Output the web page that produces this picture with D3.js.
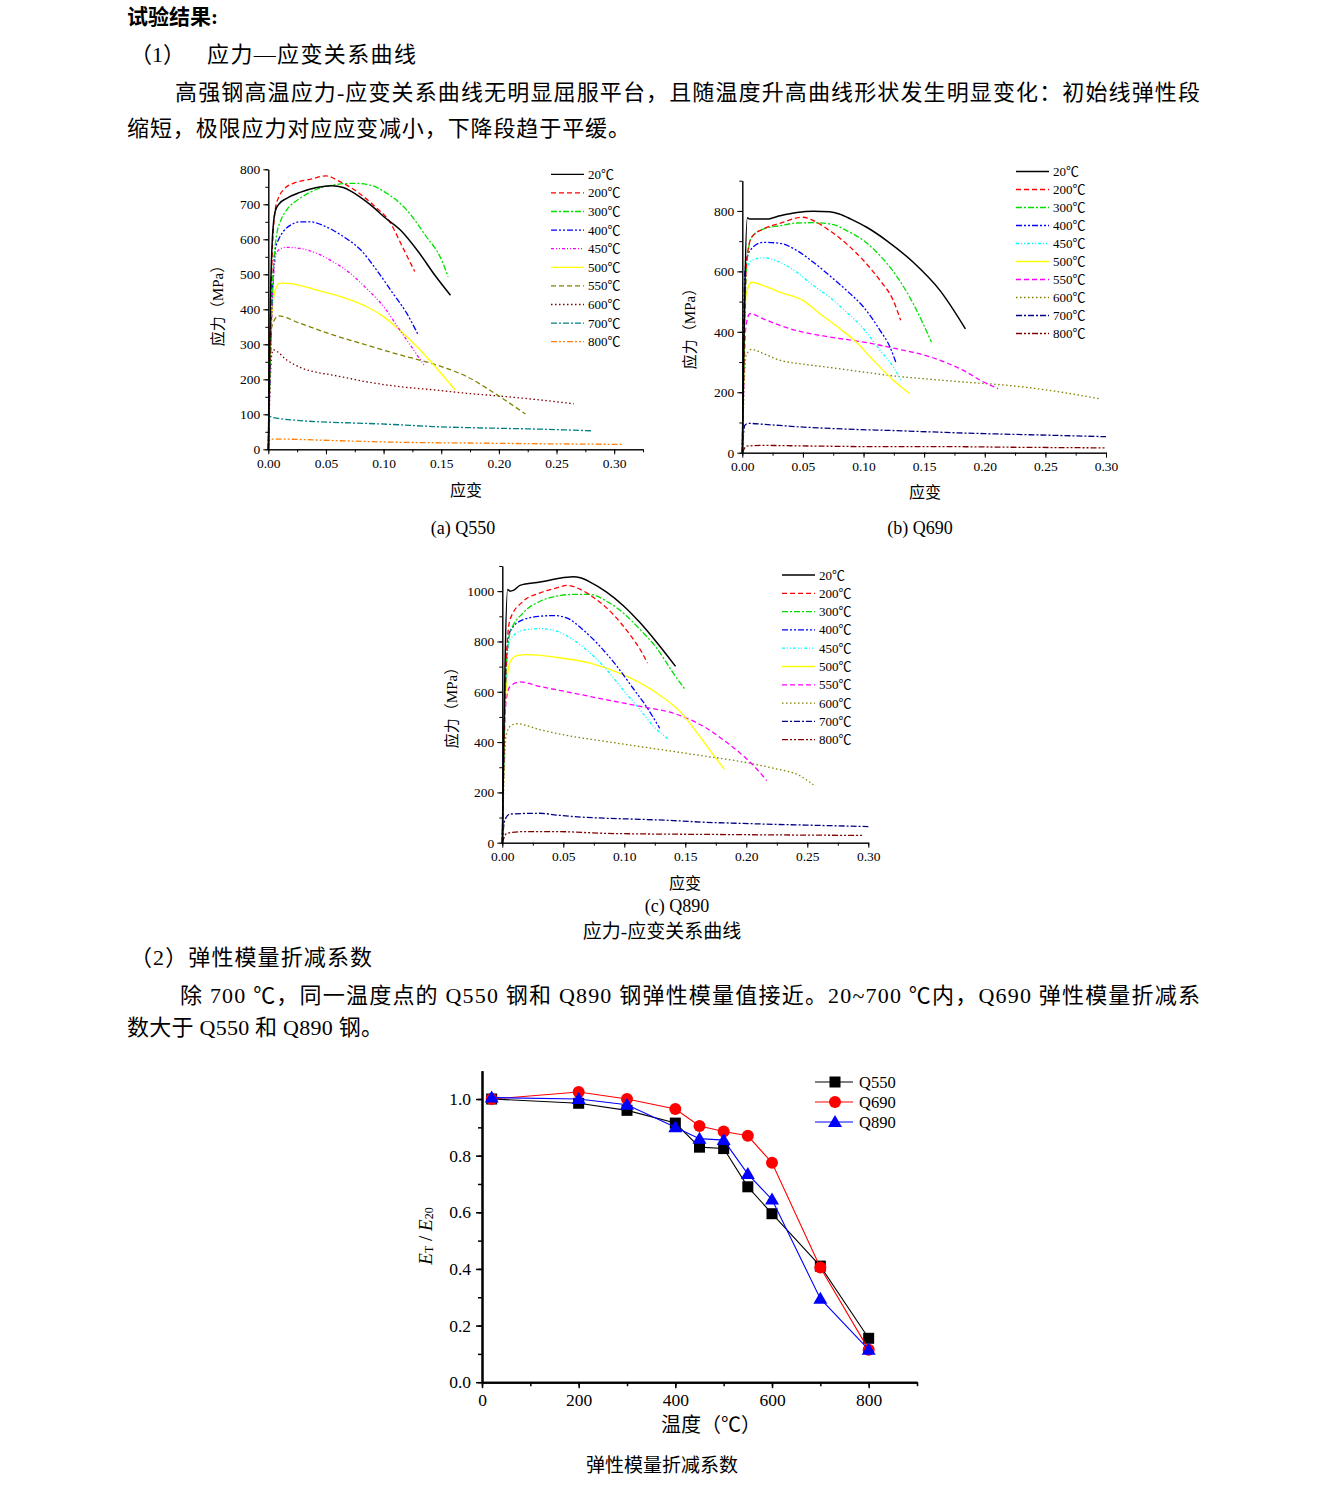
<!DOCTYPE html>
<html><head><meta charset="utf-8">
<script src="https://cdn.jsdelivr.net/npm/d3@7"></script>
<style>
body{margin:0;background:#fff;}
svg{display:block;}
</style></head>
<body>
<svg id="page" width="1323" height="1505"></svg>
<script>
// ---------------- DATA ----------------
const tempLabels = ["20℃","200℃","300℃","400℃","450℃","500℃","550℃","600℃","700℃","800℃"];
const xTickLabels = ["0.00","0.05","0.10","0.15","0.20","0.25","0.30"];

// Q550 stress-strain curves [strain, stress MPa], one list per temperature
const q550Curves = [
 [[0,0],[0.002,450],[0.0035,600],[0.006,680],[0.009,700],[0.016,717],[0.0275,734],[0.042,748],[0.055,753],[0.065,748],[0.072,737],[0.08,720],[0.09,695],[0.1,665],[0.115,625],[0.13,565],[0.145,495],[0.158,440]],
 [[0,0],[0.003,520],[0.006,684],[0.009,720],[0.013,741],[0.0217,760],[0.036,771],[0.05,781],[0.062,765],[0.077,736],[0.091,698],[0.106,646],[0.117,574],[0.127,508]],
 [[0,0],[0.003,420],[0.007,608],[0.011,655],[0.016,684],[0.0275,717],[0.042,743],[0.056,755],[0.074,760],[0.088,755],[0.103,731],[0.12,684],[0.137,608],[0.149,550],[0.156,493]],
 [[0,0],[0.003,400],[0.006,570],[0.009,600],[0.013,622],[0.02,642],[0.0275,650],[0.036,650],[0.05,636],[0.065,608],[0.08,570],[0.094,512],[0.108,446],[0.12,389],[0.13,327]],
 [[0,0],[0.003,380],[0.007,560],[0.011,574],[0.016,577],[0.0275,574],[0.042,560],[0.056,536],[0.071,503],[0.085,460],[0.1,408],[0.114,341],[0.126,284],[0.135,241]],
 [[0,0],[0.003,380],[0.006,455],[0.01,474],[0.016,474],[0.042,455],[0.071,427],[0.085,408],[0.1,379],[0.114,340],[0.129,293],[0.143,243],[0.162,170]],
 [[0,0],[0.003,350],[0.0087,381],[0.0275,360],[0.056,327],[0.085,298],[0.114,270],[0.143,244],[0.172,208],[0.201,150],[0.223,101]],
 [[0,0],[0.003,270],[0.0043,284],[0.016,255],[0.0275,234],[0.042,220],[0.056,212],[0.071,202],[0.085,193],[0.114,179],[0.143,170],[0.172,160],[0.201,152],[0.23,143],[0.265,130]],
 [[0,0],[0.0015,93],[0.004,91],[0.0275,82],[0.056,77],[0.085,74],[0.114,70],[0.143,65],[0.172,62],[0.2,60],[0.23,58],[0.28,53]],
 [[0,0],[0.0015,29],[0.01,29],[0.056,25],[0.114,20],[0.172,18],[0.23,16],[0.308,14]]
];

// Q690 stress-strain curves
const q690Curves = [
 [[0,0],[0.0042,777],[0.006,773],[0.02,773],[0.031,784],[0.045,795],[0.0586,799],[0.072,797],[0.08,790],[0.09,772],[0.1026,746],[0.119,702],[0.141,630],[0.163,537],[0.184,410]],
 [[0,0],[0.0036,636],[0.0077,713],[0.0173,740],[0.031,759],[0.05,779],[0.0586,768],[0.072,735],[0.086,691],[0.1,636],[0.1136,570],[0.1245,504],[0.1306,438]],
 [[0,0],[0.0036,620],[0.0077,713],[0.0173,740],[0.031,751],[0.045,760],[0.0586,761],[0.075,755],[0.086,735],[0.1,702],[0.1136,652],[0.127,586],[0.141,493],[0.156,366]],
 [[0,0],[0.0022,603],[0.0063,669],[0.0173,696],[0.031,693],[0.045,669],[0.0586,630],[0.072,586],[0.086,537],[0.1,482],[0.1136,405],[0.1218,350],[0.127,295]],
 [[0,0],[0.003,600],[0.0077,636],[0.0173,645],[0.031,630],[0.045,597],[0.0586,553],[0.072,515],[0.086,465],[0.1,410],[0.1136,339],[0.1245,284],[0.131,240]],
 [[0,0],[0.003,520],[0.0077,564],[0.0173,553],[0.031,531],[0.05,504],[0.064,460],[0.0806,410],[0.094,366],[0.108,306],[0.1245,240],[0.138,196]],
 [[0,0],[0.003,420],[0.0063,460],[0.0173,443],[0.031,421],[0.05,399],[0.072,383],[0.1,366],[0.127,344],[0.155,317],[0.182,273],[0.199,234],[0.211,212]],
 [[0,0],[0.003,320],[0.0077,342],[0.0173,328],[0.031,306],[0.05,293],[0.072,282],[0.1,267],[0.127,253],[0.155,243],[0.182,234],[0.21,226],[0.237,215],[0.265,199],[0.294,179]],
 [[0,0],[0.002,90],[0.005,97],[0.0173,94],[0.045,86],[0.086,78],[0.127,73],[0.168,67],[0.21,62],[0.251,58],[0.3,53]],
 [[0,0],[0.0036,22],[0.0173,24],[0.0586,22],[0.1136,20],[0.168,20],[0.224,18],[0.299,16]]
];

// Q890 stress-strain curves
const q890Curves = [
 [[0,0],[0.0044,1007],[0.0063,1000],[0.009,1003],[0.0145,1023],[0.031,1036],[0.0445,1049],[0.058,1057],[0.064,1053],[0.072,1036],[0.0855,996],[0.099,943],[0.113,874],[0.1265,797],[0.142,701]],
 [[0,0],[0.003,700],[0.0063,887],[0.0172,960],[0.031,993],[0.0445,1013],[0.053,1023],[0.064,1007],[0.077,967],[0.091,907],[0.1046,827],[0.113,768],[0.119,714]],
 [[0,0],[0.003,680],[0.0063,834],[0.0172,914],[0.031,960],[0.0445,980],[0.058,987],[0.072,987],[0.0855,960],[0.099,914],[0.113,847],[0.1265,774],[0.14,675],[0.15,608]],
 [[0,0],[0.003,680],[0.0063,840],[0.0172,887],[0.031,900],[0.042,903],[0.0527,894],[0.066,847],[0.08,781],[0.094,701],[0.107,615],[0.118,542],[0.129,455]],
 [[0,0],[0.003,660],[0.0063,807],[0.0172,845],[0.031,851],[0.0445,841],[0.058,807],[0.072,754],[0.0855,688],[0.099,608],[0.113,528],[0.124,462],[0.137,409]],
 [[0,0],[0.003,600],[0.0065,720],[0.0117,744],[0.02,748],[0.0445,737],[0.072,714],[0.099,668],[0.1265,595],[0.1456,522],[0.162,422],[0.173,349],[0.182,292]],
 [[0,0],[0.003,560],[0.0063,621],[0.0145,639],[0.031,621],[0.058,595],[0.0855,568],[0.113,542],[0.14,515],[0.154,489],[0.1675,455],[0.181,409],[0.195,356],[0.208,296],[0.2167,247]],
 [[0,0],[0.003,420],[0.0063,462],[0.0117,473],[0.031,449],[0.058,422],[0.0855,402],[0.113,382],[0.14,363],[0.1675,343],[0.195,323],[0.222,296],[0.244,266],[0.255,230]],
 [[0,0],[0.002,90],[0.0063,114],[0.031,117],[0.0445,110],[0.058,104],[0.0855,97],[0.113,93],[0.14,88],[0.1675,81],[0.195,77],[0.222,73],[0.249,70],[0.3,64]],
 [[0,0],[0.0036,37],[0.0172,44],[0.0445,44],[0.0855,37],[0.113,35],[0.1675,33],[0.222,31],[0.296,29]]
];

// Elastic modulus reduction factor E_T/E_20
const modTemps = [20,200,300,400,450,500,550,600,700,800];
const modQ550 = [1.0,0.985,0.96,0.915,0.83,0.825,0.69,0.595,0.41,0.155];
const modQ690 = [1.0,1.025,1.0,0.965,0.905,0.885,0.87,0.775,0.405,0.115];
const modQ890 = [1.005,1.0,0.98,0.9,0.86,0.855,0.735,0.645,0.295,0.115];
const modSeries = ["Q550","Q690","Q890"];

// ---------------- STYLES ----------------
const SERIF = "'Liberation Serif','Times New Roman','Noto Sans CJK SC',serif";
const CJK = "'Liberation Serif','Noto Sans CJK SC',sans-serif";
const dashSolid = null, dashDash = "5,3", dashDashDot = "6,2,2,2", dashDDD = "6,2,2,2,2,2",
      dashShortDDD = "3,2,1,2,1,2", dashDot = "1.5,2.5";
const styleA = [
 ["#000000",dashSolid],["#ff0000",dashDash],["#00e000",dashDashDot],["#0000ff",dashDDD],["#ff00ff",dashShortDDD],
 ["#ffff00",dashSolid],["#808000",dashDash],["#800000",dashDot],["#008080",dashDashDot],["#ff8000",dashDDD]];
const styleBC = [
 ["#000000",dashSolid],["#ff0000",dashDash],["#00e000",dashDashDot],["#0000ff",dashDDD],["#00ffff",dashShortDDD],
 ["#ffff00",dashSolid],["#ff00ff",dashDash],["#808000",dashDot],["#000080",dashDashDot],["#800000",dashDDD]];

const svg = d3.select("#page");

// ---------------- TEXT ----------------
function txt(x,y,s,opts={}){
  const t = svg.append("text").attr("x",x).attr("y",y).text(s)
    .attr("font-family",opts.family||CJK).attr("font-size",opts.size||22)
    .attr("dominant-baseline","central").attr("fill","#000");
  if(opts.anchor) t.attr("text-anchor",opts.anchor);
  if(opts.weight) t.attr("font-weight",opts.weight);
  if(opts.len){ t.attr("textLength",opts.len).attr("lengthAdjust","spacing"); }
  return t;
}
txt(127,17,"试验结果:",{weight:"bold",size:21});
txt(130,54,"（1）",{size:22});
txt(207,54,"应力—应变关系曲线",{size:22,len:209});
txt(175,92,"高强钢高温应力-应变关系曲线无明显屈服平台，且随温度升高曲线形状发生明显变化：初始线弹性段",{size:22,len:1025});
txt(127,128,"缩短，极限应力对应应变减小，下降段趋于平缓。",{size:22,len:503});
txt(463,528,"(a) Q550",{size:18,anchor:"middle",family:SERIF});
txt(920,528,"(b) Q690",{size:18,anchor:"middle",family:SERIF});
txt(677,906,"(c) Q890",{size:18,anchor:"middle",family:SERIF});
txt(662,931,"应力-应变关系曲线",{size:19,anchor:"middle"});
txt(130,957,"（2）弹性模量折减系数",{size:22,len:242});
txt(180,995,"除 700 ℃，同一温度点的 Q550 钢和 Q890 钢弹性模量值接近。20~700 ℃内，Q690 弹性模量折减系",{size:22,len:1020});
txt(127,1027,"数大于 Q550 和 Q890 钢。",{size:22,len:256});
txt(662,1465,"弹性模量折减系数",{size:19,anchor:"middle"});

// ---------------- STRESS-STRAIN CHARTS ----------------
function stressChart(cfg){
  const g = svg.append("g");
  const x = d3.scaleLinear().domain([0,cfg.xMax]).range([cfg.x0,cfg.x1]);
  const y = d3.scaleLinear().domain([0,cfg.yMax]).range([cfg.y0,cfg.y1]);
  const line = d3.line().x(d=>x(d[0])).y(d=>y(d[1])).curve(d3.curveMonotoneX);
  for(let i=cfg.curves.length-1;i>=0;i--){
    const [col,dash] = cfg.styles[i];
    const p = g.append("path").attr("d",line(cfg.curves[i])).attr("fill","none")
      .attr("stroke",col).attr("stroke-width",i===0?1.5:1.3);
    if(dash) p.attr("stroke-dasharray",dash);
  }
  const majX = d3.range(0,0.3001,0.05), minX = d3.range(0,cfg.xMax+1e-9,0.025);
  const ax = g.append("g").attr("transform",`translate(0,${cfg.y0})`)
    .call(d3.axisBottom(x).tickValues(minX).tickSize(3).tickSizeOuter(0).tickFormat(""));
  const ax2 = g.append("g").attr("transform",`translate(0,${cfg.y0})`)
    .call(d3.axisBottom(x).tickValues(majX).tickSize(5).tickSizeOuter(0).tickPadding(4)
      .tickFormat((d,i)=>xTickLabels[i]));
  const majY = d3.range(0,cfg.yMax+1e-9,cfg.yStep), minY = d3.range(0,cfg.yMax+1e-9,cfg.yStep/2);
  const ay = g.append("g").attr("transform",`translate(${cfg.x0},0)`)
    .call(d3.axisLeft(y).tickValues(minY).tickSize(3).tickSizeOuter(0).tickFormat(""));
  const ay2 = g.append("g").attr("transform",`translate(${cfg.x0},0)`)
    .call(d3.axisLeft(y).tickValues(majY).tickSize(5).tickSizeOuter(0).tickPadding(3).tickFormat(d3.format("d")));
  [ax,ax2,ay,ay2].forEach(a=>{
    a.selectAll("text").attr("font-family",SERIF).attr("font-size",13.5).attr("fill","#000");
    a.selectAll("line,path").attr("stroke","#000").attr("stroke-width",1);
  });
  g.append("text").attr("transform",`translate(${cfg.ylx},${cfg.yly}) rotate(-90)`)
    .attr("text-anchor","middle").attr("dominant-baseline","central")
    .attr("font-family",CJK).attr("font-size",15).text("应力（MPa）");
  g.append("text").attr("x",cfg.xlx).attr("y",cfg.xly).attr("text-anchor","middle")
    .attr("dominant-baseline","central").attr("font-family",CJK).attr("font-size",16).text("应变");
  tempLabels.forEach((lab,i)=>{
    const yy = cfg.legY + i*cfg.legDy;
    const [col,dash] = cfg.styles[i];
    const l = g.append("line").attr("x1",cfg.legX).attr("x2",cfg.legX+33).attr("y1",yy).attr("y2",yy)
      .attr("stroke",col).attr("stroke-width",1.3);
    if(dash) l.attr("stroke-dasharray",dash);
    g.append("text").attr("x",cfg.legX+37).attr("y",yy).attr("dominant-baseline","central")
      .attr("font-family",SERIF).attr("font-size",13).text(lab);
  });
}

stressChart({curves:q550Curves,styles:styleA,xMax:0.325,yMax:800,yStep:100,
  x0:268.3,x1:643,y0:449.3,y1:169.3,ylx:218,yly:302,xlx:466,xly:490,legX:551,legY:174.3,legDy:18.6});
stressChart({curves:q690Curves,styles:styleBC,xMax:0.3,yMax:900,yStep:200,
  x0:742.3,x1:1106,y0:452.7,y1:180.7,ylx:690,yly:325,xlx:925,xly:492,legX:1016,legY:171.5,legDy:18});
stressChart({curves:q890Curves,styles:styleBC,xMax:0.3,yMax:1100,yStep:200,
  x0:502.3,x1:868.3,y0:842.7,y1:566,ylx:452,yly:704,xlx:685,xly:883,legX:782,legY:575,legDy:18.3});

// ---------------- MODULUS CHART ----------------
(function(){
  const g = svg.append("g");
  const X0 = 482, Y0 = 1382.2;
  const x = d3.scaleLinear().domain([0,900]).range([X0,917]);
  const y = d3.scaleLinear().domain([0,1.1]).range([Y0,1070.7]);
  const ax = g.append("g").attr("transform",`translate(0,${Y0})`)
    .call(d3.axisBottom(x).tickValues(d3.range(0,901,100)).tickSize(4).tickSizeOuter(0).tickFormat(""));
  const ax2 = g.append("g").attr("transform",`translate(0,${Y0})`)
    .call(d3.axisBottom(x).tickValues(d3.range(0,801,200)).tickSize(6).tickSizeOuter(0).tickPadding(5).tickFormat(d3.format("d")));
  const ay = g.append("g").attr("transform",`translate(${X0},0)`)
    .call(d3.axisLeft(y).tickValues(d3.range(0,11).map(d=>d/10)).tickSize(4).tickSizeOuter(0).tickFormat(""));
  const ay2 = g.append("g").attr("transform",`translate(${X0},0)`)
    .call(d3.axisLeft(y).tickValues([0,0.2,0.4,0.6,0.8,1.0]).tickSize(6).tickSizeOuter(0).tickPadding(5).tickFormat(d3.format(".1f")));
  [ax,ax2,ay,ay2].forEach(a=>{
    a.selectAll("text").attr("font-family",SERIF).attr("font-size",17.5).attr("fill","#000");
    a.selectAll("line").attr("stroke","#000").attr("stroke-width",1.5);
    a.selectAll("path").attr("stroke","#000").attr("stroke-width",2);
  });
  const cols = ["#000000","#ff0000","#0000ff"];
  const vals = [modQ550,modQ690,modQ890];
  const line = d3.line().x(d=>x(d[0])).y(d=>y(d[1]));
  function marker(sel,k,cx,cy){
    if(k===0) sel.append("rect").attr("x",cx-5.5).attr("y",cy-5.5).attr("width",11).attr("height",11).attr("fill",cols[k]);
    else if(k===1) sel.append("circle").attr("cx",cx).attr("cy",cy).attr("r",6).attr("fill",cols[k]);
    else sel.append("path").attr("d",`M${cx},${cy-7}L${cx+7},${cy+5}L${cx-7},${cy+5}Z`).attr("fill",cols[k]);
  }
  vals.forEach((v,k)=>{
    const pts = modTemps.map((t,i)=>[t,v[i]]);
    g.append("path").attr("d",line(pts)).attr("fill","none").attr("stroke",cols[k]).attr("stroke-width",1.1);
    pts.forEach(p=>marker(g,k,x(p[0]),y(p[1])));
  });
  modSeries.forEach((s,k)=>{
    const yy = [1082,1102,1122][k];
    g.append("line").attr("x1",815).attr("x2",853).attr("y1",yy).attr("y2",yy).attr("stroke",cols[k]).attr("stroke-width",1.1);
    marker(g,k,835,yy);
    g.append("text").attr("x",859).attr("y",yy).attr("dominant-baseline","central")
      .attr("font-family",SERIF).attr("font-size",16.5).text(s);
  });
  g.append("text").attr("x",711).attr("y",1425).attr("text-anchor","middle").attr("dominant-baseline","central")
    .attr("font-family",CJK).attr("font-size",20).text("温度（℃）");
  const yl = g.append("text").attr("transform","translate(425,1236) rotate(-90)").attr("text-anchor","middle")
    .attr("dominant-baseline","central").attr("font-family",SERIF).attr("font-size",19);
  yl.append("tspan").attr("font-style","italic").text("E");
  yl.append("tspan").attr("font-size",12).attr("dy",4).text("T");
  yl.append("tspan").attr("dy",-4).text(" / ");
  yl.append("tspan").attr("font-style","italic").text("E");
  yl.append("tspan").attr("font-size",12).attr("dy",4).text("20");
})();
</script>
</body></html>
